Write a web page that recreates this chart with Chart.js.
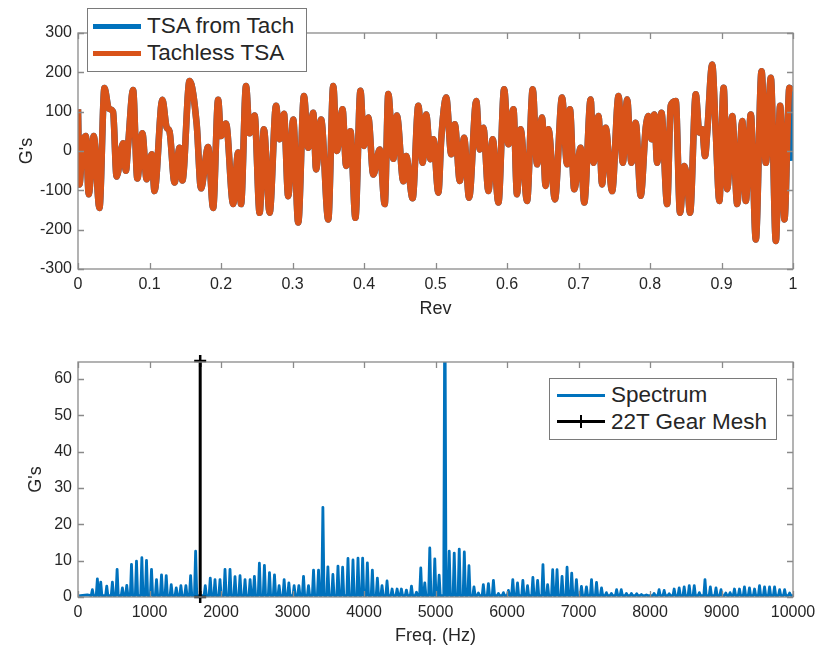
<!DOCTYPE html>
<html>
<head>
<meta charset="utf-8">
<script src="https://cdn.jsdelivr.net/npm/chart.js@4"></script>
<style>
  body { margin: 0; background: #fff; }
  #wrap { position: relative; width: 815px; height: 651px; font-family: "Liberation Sans", Arial, sans-serif; color: #262626; }
  canvas { position: absolute; left: 0; }
  .legend { position: absolute; background: #fff; border: 1.5px solid #7a7a7a; box-sizing: border-box; }
  .item { position: absolute; font-size: 22.5px; line-height: 24px; white-space: nowrap; }
  .swatch { position: absolute; }
</style>
</head>
<body>
<div id="wrap">
  <canvas id="tsa" width="815" height="330" style="top:0"></canvas>
  <canvas id="spec" width="815" height="321" style="top:330px"></canvas>

  <div class="legend" style="left:87px; top:8px; width:220px; height:64px;">
    <div class="swatch" style="left:5px; top:15px; width:48px; height:5px; background:#0072BD;"></div>
    <div class="item" style="left:59px; top:5px;">TSA from Tach</div>
    <div class="swatch" style="left:5px; top:42px; width:48px; height:5px; background:#D95319;"></div>
    <div class="item" style="left:59px; top:32px;">Tachless TSA</div>
  </div>

  <div class="legend" style="left:549px; top:378px; width:228px; height:62px;">
    <div class="swatch" style="left:7px; top:15px; width:48px; height:3px; background:#0072BD;"></div>
    <div class="item" style="left:61px; top:4px;">Spectrum</div>
    <div class="swatch" style="left:7px; top:41px; width:48px; height:3px; background:#000;"></div>
    <div class="swatch" style="left:30px; top:36px; width:2px; height:13px; background:#000;"></div>
    <div class="item" style="left:61px; top:31px;">22T Gear Mesh</div>
  </div>
</div>

<script>
// time synchronous average, one revolution
const rev = [0.000,0.002,0.006,0.011,0.015,0.022,0.030,0.037,0.043,0.049,
  0.054,0.063,0.067,0.070,0.077,0.083,0.090,0.096,0.103,0.107,
  0.118,0.124,0.128,0.135,0.142,0.146,0.156,0.166,0.172,0.182,
  0.189,0.196,0.200,0.207,0.217,0.224,0.228,0.235,0.240,0.247,
  0.254,0.260,0.268,0.277,0.282,0.288,0.294,0.301,0.308,0.316,
  0.322,0.329,0.333,0.340,0.350,0.357,0.362,0.370,0.375,0.381,
  0.388,0.395,0.400,0.406,0.413,0.422,0.429,0.434,0.441,0.446,
  0.455,0.459,0.468,0.476,0.482,0.487,0.493,0.497,0.504,0.508,
  0.515,0.522,0.527,0.534,0.540,0.547,0.557,0.562,0.567,0.574,
  0.580,0.588,0.596,0.602,0.609,0.614,0.619,0.628,0.636,0.642,
  0.649,0.654,0.658,0.667,0.677,0.684,0.688,0.694,0.703,0.708,
  0.717,0.721,0.728,0.733,0.738,0.747,0.756,0.762,0.768,0.774,
  0.780,0.787,0.794,0.798,0.802,0.806,0.810,0.816,0.824,0.829,
  0.836,0.842,0.848,0.852,0.856,0.864,0.869,0.873,0.877,0.880,
  0.887,0.892,0.897,0.903,0.908,0.915,0.922,0.929,0.934,0.941,
  0.948,0.956,0.962,0.969,0.976,0.982,0.988,0.995,0.998];

const tachlessTSA = [106,-85,8,38,-110,38,-145,160,108,100,
  -65,20,-50,12,155,-70,45,-72,-8,-102,
  130,60,50,-80,8,-75,178,68,-95,10,
  -145,130,38,70,-135,-4,-135,165,45,90,
  -157,55,-157,115,30,95,-115,80,-182,140,
  8,97,-47,80,-174,165,0,106,-38,50,
  -170,153,13,85,-60,4,-135,145,-20,90,
  -77,-13,-120,115,-30,93,-21,30,-106,30,
  136,-8,68,-76,34,-119,127,4,59,-102,
  30,-131,157,17,106,-110,55,-127,157,-34,
  85,-89,55,-123,136,-34,106,-97,8,-131,
  131,-30,89,-85,59,-102,140,-30,131,-30,
  72,-114,59,89,30,93,-30,97,-135,115,
  127,-157,-38,-76,-157,144,47,55,-13,47,
  220,47,-127,161,-97,89,-135,76,-127,93,
  -225,203,-30,186,-229,115,-174,161,150];

// TSA from tach follows the tachless one, but ends lower at rev 1
const tachEndRev = 1.0;
const tachEndValue = -25;

const revTicks = [0,0.1,0.2,0.3,0.4,0.5,0.6,0.7,0.8,0.9,1];
const tsaTicks = [-300,-200,-100,0,100,200,300];

// spectrum peaks
const specFreq = [0,130,201,271,318,402,481,547,621,682,748,818,893,958,1028,1098,1168,1234,1304,1374,
  1439,1509,1575,1645,1780,1850,1916,1986,2056,2126,2196,2266,2336,2407,2467,2537,2607,2678,2748,2813,
  2883,2949,3023,3089,3154,3224,3294,3364,3425,3495,3565,3636,3701,3776,3846,3916,3981,4047,4117,4187,
  4252,4322,4393,4463,4523,4593,4664,4734,4794,4850,4920,4990,5051,5131,5192,5262,5332,5403,5468,5538,
  5600,5669,5740,5810,5880,5950,6020,6081,6147,6222,6287,6362,6428,6503,6568,6639,6700,6770,6840,6905,
  6971,7041,7111,7182,7252,7322,7390,7460,7533,7598,7670,7740,7814,7880,7950,8057,8127,8198,8268,8338,
  8408,8478,8549,8619,8690,8769,8844,8923,8993,9060,9120,9181,9251,9321,9391,9462,9532,9602,9672,9742,
  9813,9883,9953,10000];
const specAmp = [0.3,0.6,2,5,4.1,3,4.1,7.6,2.5,3.2,9,9.9,10.8,10.1,7.6,4.8,6.1,5.9,3.4,2.5,
  3.1,3.1,5.9,12.6,3.1,5.2,4.8,4.8,7.6,7.6,5.6,5.9,4.8,4.8,5.7,9.3,8.7,6.7,6.1,3.1,
  4.8,3.9,3.1,3.1,5.7,3.1,7.4,7.4,24.7,8.3,6.2,8.5,8.2,10.6,10.2,10.7,10.7,9.4,7.4,5.2,
  3.1,4.4,2.2,2.2,2.2,1.9,3,1.3,8,3.9,13.5,10.5,6,90,12.6,12.1,13.2,12.4,8.6,2.8,
  1.1,3.4,3.7,4.6,1,1.2,1.8,4.8,3.9,4.6,3.1,5.4,4.6,8.9,3.4,7.5,7.5,5.7,8.2,6.6,
  4.8,2.9,2.8,4.8,4,2.5,1.2,1,2,2,1,1,0.9,0.7,0.6,1,2,1.8,0.9,2.2,
  2.5,2.8,3.1,3.1,1.2,4.8,2.8,2.5,2,1.1,1.2,2.2,2.2,2.8,2.5,2.2,3.1,2.8,2.8,2.8,
  2,2,1.1,0.4];
const specFloor = 0.4;
const spikeHalfWidth = 16; // Hz, width of each spectral line at its base

const meshFreq = 1709;
const meshLine = [0, 65];
const freqTicks = [0,1000,2000,3000,4000,5000,6000,7000,8000,9000,10000];
const specTicks = [0,10,20,30,40,50,60];

const textColor = '#262626';
const boxColor = '#8a8a8a';

// MATLAB style box with inward ticks on all four sides
const boxTicks = {
  id: 'boxTicks',
  afterDraw(chart) {
    const { ctx, chartArea: a, scales } = chart;
    ctx.save();
    ctx.strokeStyle = boxColor;
    ctx.lineWidth = 1.3;
    ctx.strokeRect(a.left, a.top, a.right - a.left, a.bottom - a.top);
    ctx.beginPath();
    scales.x.ticks.forEach((t, i) => {
      const px = Math.round(scales.x.getPixelForTick(i)) + 0.5;
      ctx.moveTo(px, a.bottom); ctx.lineTo(px, a.bottom - 6);
      ctx.moveTo(px, a.top); ctx.lineTo(px, a.top + 6);
    });
    scales.y.ticks.forEach((t, i) => {
      const py = Math.round(scales.y.getPixelForTick(i)) + 0.5;
      ctx.moveTo(a.left, py); ctx.lineTo(a.left + 6, py);
      ctx.moveTo(a.right, py); ctx.lineTo(a.right - 6, py);
    });
    ctx.stroke();
    ctx.restore();
  }
};

const fonteTick = { family: 'Liberation Sans', size: 16 };

function eixo(titulo, tituloPad, tamanho, lista, extra) {
  return Object.assign({
    type: 'linear',
    grid: { display: false, drawTicks: false },
    border: { display: false },
    afterBuildTicks: s => { s.ticks = lista.map(v => ({ value: v })); },
    ticks: { color: textColor, font: fonteTick, padding: 6, maxRotation: 0, autoSkip: false,
             callback: v => String(Math.round(v * 10) / 10) },
    title: { display: true, text: titulo, color: textColor, font: { family: 'Liberation Sans', size: 18 }, padding: tituloPad },
    afterFit(s) {
      if (s.isHorizontal()) { s.height = tamanho; s.paddingLeft = 0; s.paddingRight = 0; }
      else { s.width = tamanho; s.paddingTop = 0; s.paddingBottom = 0; }
    }
  }, extra);
}

function plotarTSA() {
  const ctx = document.getElementById('tsa').getContext('2d');
  const tachless = rev.map((r, i) => ({ x: r, y: tachlessTSA[i] }));
  const fromTach = tachless.concat([{ x: tachEndRev, y: tachEndValue }]);

  new Chart(ctx, {
    type: 'line',
    data: {
      datasets: [
        {
          label: 'TSA from Tach',
          data: fromTach,
          borderColor: '#0072BD',
          borderWidth: 6.5,
          pointRadius: 0,
          cubicInterpolationMode: 'monotone',
          borderJoinStyle: 'round',
          order: 2
        },
        {
          label: 'Tachless TSA',
          data: tachless,
          borderColor: '#D95319',
          borderWidth: 6.5,
          pointRadius: 0,
          cubicInterpolationMode: 'monotone',
          borderJoinStyle: 'round',
          order: 1
        }
      ]
    },
    options: {
      responsive: false,
      animation: false,
      devicePixelRatio: 1,
      layout: { padding: { left: 0, right: 22, top: 33, bottom: 0 } },
      plugins: { legend: { display: false }, tooltip: { enabled: false } },
      scales: {
        x: eixo('Rev', { top: 0, bottom: 10 }, 61, revTicks, { min: 0, max: 1 }),
        y: eixo("G's", { top: 16, bottom: 0 }, 78, tsaTicks, { min: -300, max: 300 })
      }
    },
    plugins: [boxTicks]
  });
}

function plotarEspectro() {
  const ctx = document.getElementById('spec').getContext('2d');
  const espectro = [];
  specFreq.forEach((f, i) => {
    const pico = i > 1 && i < specFreq.length - 1;
    if (pico) espectro.push({ x: f - spikeHalfWidth, y: specFloor });
    espectro.push({ x: f, y: specAmp[i] });
    if (pico) espectro.push({ x: f + spikeHalfWidth, y: specFloor });
  });
  const malha = meshLine.map(v => ({ x: meshFreq, y: v }));

  new Chart(ctx, {
    type: 'line',
    data: {
      datasets: [
        {
          label: 'Spectrum',
          data: espectro,
          borderColor: '#0072BD',
          borderWidth: 2.8,
          borderJoinStyle: 'round',
          pointRadius: 0,
          tension: 0,
          clip: 0,
          order: 2
        },
        {
          label: '22T Gear Mesh',
          data: malha,
          borderColor: '#000',
          borderWidth: 3,
          pointStyle: 'cross',
          pointRadius: 6,
          pointBorderWidth: 2.5,
          pointBorderColor: '#000',
          clip: false,
          order: 1
        }
      ]
    },
    options: {
      responsive: false,
      animation: false,
      devicePixelRatio: 1,
      layout: { padding: { left: 0, right: 22, top: 32, bottom: 0 } },
      plugins: { legend: { display: false }, tooltip: { enabled: false } },
      scales: {
        x: eixo('Freq. (Hz)', { top: 0, bottom: 4 }, 54, freqTicks, { min: 0, max: 10000 }),
        y: eixo("G's", { top: 25, bottom: 0 }, 78, specTicks, { min: 0, max: 64.7 })
      }
    },
    plugins: [boxTicks]
  });
}

function main() {
  plotarTSA();
  plotarEspectro();
}

window.addEventListener('DOMContentLoaded', main);
</script>
</body>
</html>
